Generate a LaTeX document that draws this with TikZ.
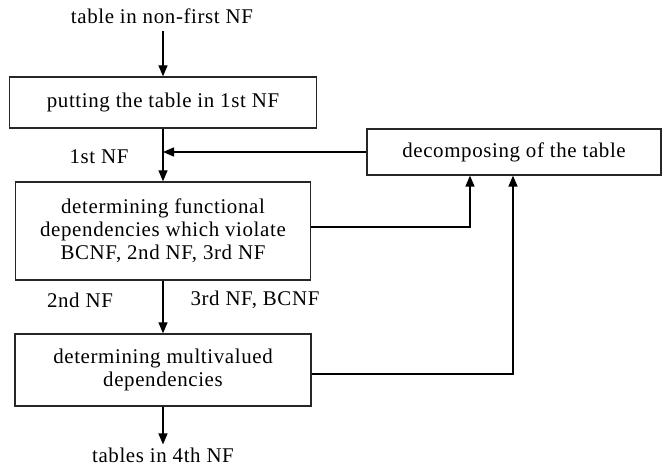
\documentclass[tikz,border=0pt]{standalone}
\usepackage{fontspec}
\setmainfont[LetterSpace=3]{Liberation Serif}
\usetikzlibrary{arrows.meta}
\begin{document}
\begin{tikzpicture}[x=1bp,y=-1bp,
  every node/.style={font=\fontsize{21}{23}\selectfont, inner sep=0pt},
  box/.style={draw=black!85, line width=1.3bp, align=center},
  lbl/.style={anchor=center},
  arr/.style={line width=1.3bp, -{Triangle[length=11bp,width=9bp]}},
  ln/.style={line width=1.3bp}]
\useasboundingbox (0,0) rectangle (664,470);
\node[lbl] (t) at (162,16) {table in non-first NF};
\node[box, minimum width=307bp, minimum height=51bp] (b1) at (163,102.5) {putting the table in 1st NF};
\node[box, minimum width=294bp, minimum height=46bp] (dc) at (514,152) {decomposing of the table};
\node[box, minimum width=295bp, minimum height=98bp] (b2) at (163,231) {determining functional\\dependencies which violate\\BCNF, 2nd NF, 3rd NF};
\node[box, minimum width=296bp, minimum height=72bp] (b3) at (163,370) {determining multivalued\\dependencies};
\node[lbl] (l1) at (99,157) {1st NF};
\node[lbl] (l2) at (80,300) {2nd NF};
\node[lbl] (l3) at (255,300) {3rd NF, BCNF};
\node[lbl] (t4) at (163,455) {tables in 4th NF};
\draw[arr, shorten <=7bp] (t.south -| b1.north) -- (b1.north);
\draw[arr] (b1.south) -- (b2.north);
\draw[arr] (dc.west) -- (dc.west -| b1.south);
\draw[arr] ([yshift=4bp]b2.east) -| ([xshift=-44bp]dc.south);
\draw[arr] (b2.south) -- (b3.north);
\draw[arr] ([yshift=-4bp]b3.east) -| ([xshift=-1bp]dc.south);
\draw[arr, shorten >=3bp] (b3.south) -- (t4.north);
\end{tikzpicture}
\end{document}
